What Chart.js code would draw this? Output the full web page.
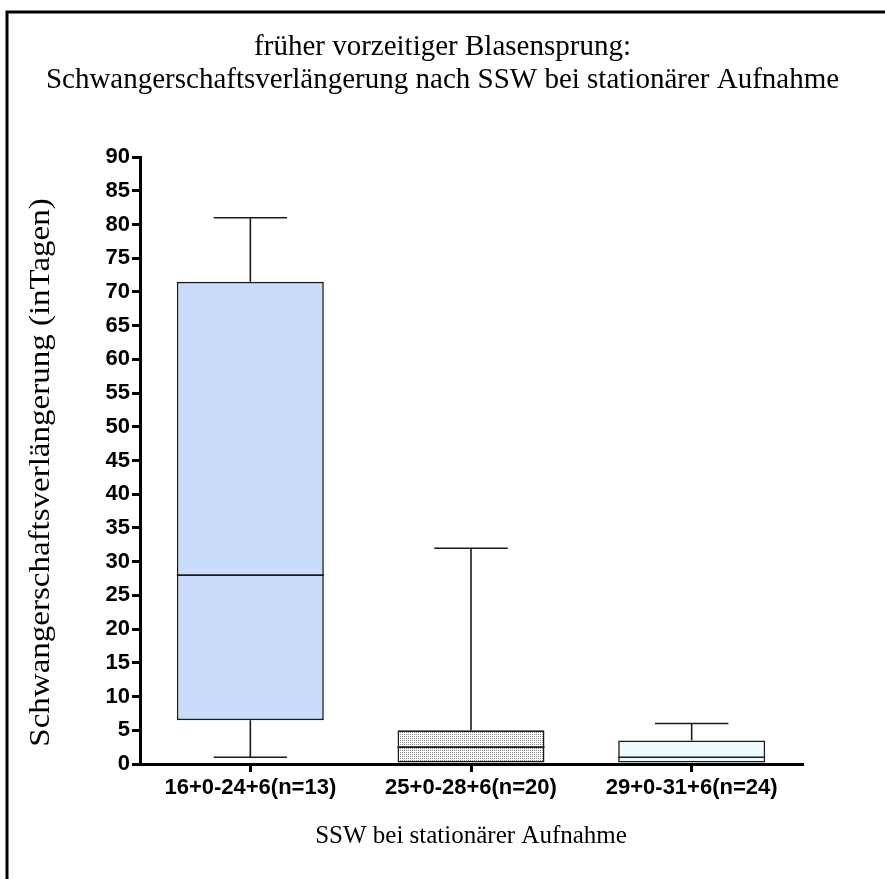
<!DOCTYPE html>
<html><head><meta charset="utf-8">
<script src="https://cdn.jsdelivr.net/npm/chart.js@4.4.0/dist/chart.umd.min.js"></script>
<style>html,body{margin:0;padding:0;background:#fff;}#wrap{width:885px;height:879px;}</style>
</head><body><div id="wrap"><canvas id="c" width="885" height="879"></canvas></div>
<script>
// ---- data ----
const categories = ['16+0-24+6(n=13)', '25+0-28+6(n=20)', '29+0-31+6(n=24)'];
const whiskerMin = [1, 0, 0];
const q1 = [6.5, 0, 0];
const median = [28, 2.5, 1];
const q3 = [71.5, 5, 3.5];
const whiskerMax = [81, 32, 6];
const yMin = 0, yMax = 90, yStep = 5;
const titleLines = ['früher vorzeitiger Blasensprung:', 'Schwangerschaftsverlängerung nach SSW bei stationärer Aufnahme'];
const yTitle = 'Schwangerschaftsverlängerung (inTagen)';
const xTitle = 'SSW bei stationärer Aufnahme';

// ---- styles ----
function dotPattern() {
  const c = document.createElement('canvas');
  c.width = 2; c.height = 2;
  const g = c.getContext('2d');
  g.fillStyle = '#ffffff'; g.fillRect(0, 0, 2, 2);
  g.fillStyle = '#8a8a8a'; g.fillRect(0, 0, 1, 1);
  return g.createPattern(c, 'repeat');
}
const ctx0 = document.getElementById('c').getContext('2d');
const boxFills = ['#cadcfb', dotPattern(), '#eefbff'];

const frame = {
  id: 'frame',
  beforeDraw(chart) {
    const ctx = chart.ctx;
    ctx.save();
    ctx.fillStyle = '#fff';
    ctx.fillRect(0, 0, chart.width, chart.height);
    ctx.strokeStyle = '#000';
    ctx.lineWidth = 3;
    ctx.beginPath();
    ctx.moveTo(885, 12); ctx.lineTo(7, 12); ctx.lineTo(7, 879);
    ctx.stroke();
    ctx.restore();
  }
};

// y-axis title, slightly stretched along its direction like the original export
const yTitlePlugin = {
  id: 'yTitlePlugin',
  afterDraw(chart) {
    const ctx = chart.ctx, a = chart.chartArea;
    ctx.save();
    ctx.translate(41, (a.top + a.bottom) / 2 + 12);
    ctx.rotate(-Math.PI / 2);
    ctx.scale(1.1, 1);
    ctx.font = '30px "Liberation Serif"';
    ctx.fillStyle = '#000';
    ctx.textAlign = 'center';
    ctx.textBaseline = 'middle';
    ctx.fillText(yTitle, 0, 0);
    ctx.restore();
  }
};

const boxExtras = {
  id: 'boxExtras',
  afterDatasetsDraw(chart) {
    const ctx = chart.ctx, y = chart.scales.y;
    const meta = chart.getDatasetMeta(0);
    ctx.save();
    ctx.strokeStyle = '#1a1a1a';
    ctx.lineWidth = 1.6;
    const seg = (x1, y1, x2, y2) => { ctx.beginPath(); ctx.moveTo(x1, y1); ctx.lineTo(x2, y2); ctx.stroke(); };
    meta.data.forEach((bar, i) => {
      const p = bar.getProps(['x', 'width'], true);
      const cx = p.x, w = p.width;
      const ym = y.getPixelForValue(median[i]);
      seg(cx - w / 2, ym, cx + w / 2, ym);
      if (whiskerMax[i] > q3[i]) {
        const a = y.getPixelForValue(q3[i]), b = y.getPixelForValue(whiskerMax[i]);
        seg(cx, a, cx, b);
        seg(cx - w / 4, b, cx + w / 4, b);
      }
      if (whiskerMin[i] < q1[i]) {
        const a = y.getPixelForValue(q1[i]), b = y.getPixelForValue(whiskerMin[i]);
        seg(cx, a, cx, b);
        seg(cx - w / 4, b, cx + w / 4, b);
      }
    });
    ctx.restore();
  }
};

new Chart(ctx0, {
  type: 'bar',
  data: {
    labels: categories,
    datasets: [{
      data: q1.map((v, i) => [v, q3[i]]),
      backgroundColor: boxFills,
      borderColor: '#1a1a1a',
      borderWidth: 1.6,
      borderSkipped: false,
      barPercentage: 0.666,
      categoryPercentage: 1
    }]
  },
  options: {
    responsive: false,
    animation: false,
    devicePixelRatio: 1,
    layout: { padding: { left: 0, right: 0, top: 0, bottom: 0 } },
    plugins: {
      legend: { display: false },
      tooltip: { enabled: false },
      title: {
        display: true,
        text: titleLines,
        color: '#000',
        font: { family: 'Liberation Serif', size: 29, weight: 'normal', lineHeight: 1.14 },
        padding: { top: 30.5, bottom: 60.4 }
      }
    },
    scales: {
      x: {
        type: 'category',
        offset: true,
        afterFit(s) { s.height = 115; },
        grid: { display: true, offset: false, drawOnChartArea: false, drawTicks: true, tickLength: 8, lineWidth: 3, color: '#000' },
        border: { display: true, width: 3, color: '#000' },
        ticks: { color: '#000', padding: 3, font: { family: 'Liberation Sans', weight: 'bold', size: 22 }, maxRotation: 0 },
        title: { display: true, text: xTitle, color: '#000', font: { family: 'Liberation Serif', size: 25, weight: 'normal', lineHeight: 1.2 }, padding: { top: 0, bottom: 28 } }
      },
      y: {
        min: yMin, max: yMax,
        afterFit(s) { s.width = 140; },
        grid: { display: true, drawOnChartArea: false, drawTicks: true, tickLength: 8, lineWidth: 3, color: '#000' },
        border: { display: true, width: 3, color: '#000' },
        ticks: { stepSize: yStep, color: '#000', padding: 2, font: { family: 'Liberation Sans', weight: 'bold', size: 22 } },
        title: { display: false }
      },
      yRightGap: {
        type: 'linear',
        position: 'right',
        display: true,
        afterFit(s) { s.width = 83; },
        grid: { display: false },
        border: { display: false },
        ticks: { display: false },
        title: { display: false }
      }
    }
  },
  plugins: [frame, boxExtras, yTitlePlugin]
});
</script></body></html>
